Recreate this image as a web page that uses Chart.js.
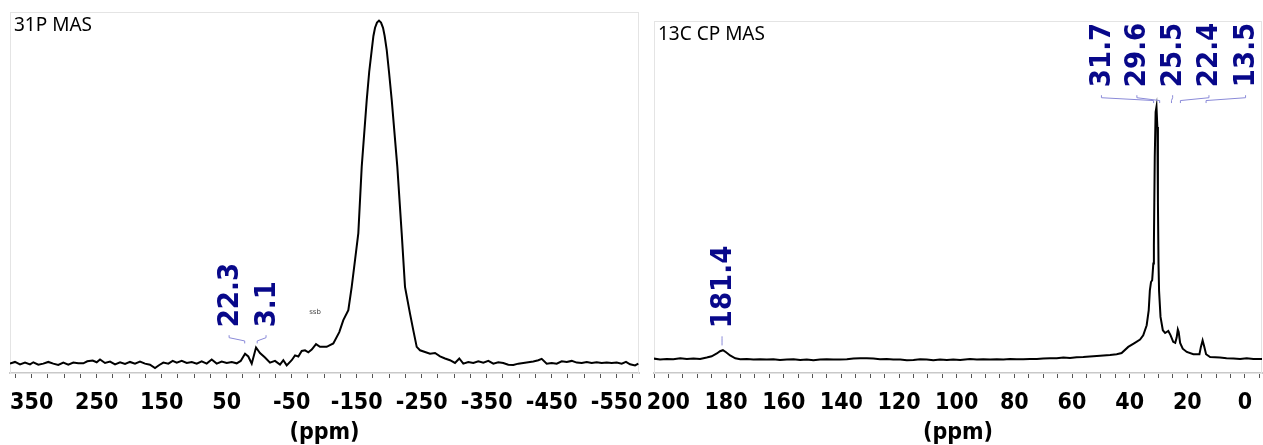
<!DOCTYPE html>
<html>
<head>
<meta charset="utf-8">
<script src="https://cdn.jsdelivr.net/npm/chart.js@4.4.1/dist/chart.umd.min.js"></script>
<style>
  html, body { margin: 0; padding: 0; background: #fff; }
  .panel { position: absolute; top: 0; height: 445px; overflow: hidden; }
  #left { left: 0; width: 641px; }
  #right { left: 641px; width: 622px; }
</style>
</head>
<body>
<div class="panel" id="left"><canvas id="p31" width="641" height="445"></canvas></div>
<div class="panel" id="right"><canvas id="c13" width="622" height="445"></canvas></div>
<script>
// 31P MAS trace (ppm / relative intensity, main peak = 100)
const p31Ppm = [383.4, 375.7, 368, 360.3, 352.6, 347.5, 339.8, 332.2, 324.5, 316.8, 309.1, 301.4, 293.7, 286, 278.3,
  270.6, 264.5, 256.2, 250, 244.9, 237.2, 229.5, 221.8, 214.1, 206.4, 198.8, 191.1, 183.4, 175.7, 168, 160.3, 153.7,
  147.5, 139.8, 133.1, 126.9, 119.2, 111.5, 103.8, 96.1, 88.5, 80.8, 73.1, 65.4, 57.7, 50, 42.3, 34.6, 28.5, 21.8,
  16.8, 11.5, 4.9, -1.2, -8.9, -16.6, -24.3, -32, -37.1, -42.3, -50, -55.1, -60.2, -65.4, -70.5, -75.6, -80.8, -87.4,
  -93.5, -103.8, -114, -123.2, -129.4, -137.1, -142.3, -147.4, -152.5, -157.7, -165.4, -169.2, -173.1, -175.7, -178.2,
  -181.2, -184.3, -187.4, -190.5, -193, -196.2, -199.7, -203.9, -212.5, -219.2, -224.3, -232, -237.1, -242.3, -247.4,
  -255.1, -262.8, -270.5, -278.2, -285.9, -293.5, -301.2, -307.8, -314, -321.7, -329.4, -337.1, -344.8, -352.5, -360.2,
  -367.8, -375.5, -383.2, -390.9, -398.6, -406.3, -414, -421.7, -429.4, -434.6, -442.3, -450, -457.7, -465.4, -473.1,
  -480.8, -488.5, -496.2, -503.9, -511.5, -519.2, -526.9, -534.6, -542.3, -550, -557.7, -564.3, -570.5, -578.2, -583.3];
const p31Int = [-0.1, 0.4, -0.3, 0.2, -0.3, 0.3, -0.4, -0.1, 0.4, -0.1, -0.5, 0.2, -0.4, 0.2, 0,
  0, 0.6, 0.8, 0.3, 1.1, 0.1, 0.5, -0.3, 0.3, -0.2, 0.4, -0.1, 0.5, -0.1, -0.4, -1.4, -0.5,
  0.2, -0.1, 0.7, 0.2, 0.7, 0.1, 0.4, -0.1, 0.6, -0.1, 1.1, -0.1, 0.5, 0.1, 0.4, 0, 0.7, 2.8,
  2.0, -0.1, 4.6, 3.0, 1.7, 0.2, 0.7, -0.4, 0.9, -0.6, 0.9, 2.3, 2.0, 3.6, 3.8, 3.2, 4.0, 5.6,
  4.8, 4.8, 5.8, 9.1, 12.6, 15.5, 22.3, 30.1, 38, 57.3, 76.8, 85, 91.4, 95.5, 97.9,
  99.4, 100, 99.4, 97.9, 95.5, 91.4, 85, 76.8, 57.3, 38, 22.3, 14.5, 9.6, 4.8, 3.8,
  3.3, 2.8, 3.0, 2.0, 1.4, 0.9, 0.1, 1.4, -0.1, 0.4, 0.1, 0.6, 0.2, 0.7, -0.1,
  0.3, 0.1, -0.4, -0.5, -0.1, 0.1, 0.3, 0.5, 0.9, 1.3, -0.1, 0.1, -0.1, 0.6, 0.4,
  0.7, 0.2, 0.1, 0.4, 0.1, 0.3, 0.1, 0.2, 0.1, 0.2, -0.1, 0.4, -0.3, -0.6, -0.1];
const p31Peaks = [22.3, 3.1];
const p31Labels = [350, 250, 150, 50, -50, -150, -250, -350, -450, -550];

// 13C CP MAS trace (ppm / relative intensity, main peak = 100)
const c13Ppm = [205.2, 202.9, 200.6, 198.3, 195.9, 193.6, 191.3, 189, 186.7, 185, 183.2, 182.1, 181.1, 180, 178.6,
  176.8, 175.1, 172.8, 170.5, 168.2, 165.9, 163.6, 161.3, 158.9, 156.6, 154.3, 152, 149.7, 147.4, 145.1, 142.8,
  140.5, 138.1, 135.8, 133.5, 131.2, 128.9, 126.6, 124.3, 122, 119.6, 117.3, 115, 112.7, 110.4, 108.1, 105.8, 103.4,
  101.2, 98.8, 95.4, 93, 90.8, 88.4, 86.1, 83.8, 81.5, 79.2, 76.9, 74.6, 72.2, 70, 67.6, 65.3, 63, 60.7, 58.4, 56.1,
  53.8, 51.4, 49.1, 46.8, 44.5, 42.8, 40.5, 38.2, 36.4, 35.3, 34.1, 33.4, 33, 32.6, 32.2, 31.8, 31.6, 31.3, 31, 30.7,
  30.4, 30.2, 30.0, 29.8, 29.3, 28.5, 27.7, 26.6, 25.8, 24.9, 24.2, 23.7, 23.3, 23, 22.5, 21.6, 20.2, 17.9, 15.8,
  15.3, 14.7, 14.1, 13.5, 12.1, 8.7, 6.4, 4, 1.7, -0.6, -2.9, -6.2];
const c13Int = [0.3, -0.1, 0.1, 0, 0.4, 0.1, 0.3, 0.1, 0.7, 1.2, 2.3, 3.2, 3.6, 2.8, 1.5,
  0.4, 0, 0.1, -0.1, 0, -0.1, 0, -0.3, -0.1, 0, -0.3, -0.1, -0.4, -0.1, 0, -0.1,
  -0.1, 0, 0.3, 0.4, 0.4, 0.3, 0, 0.1, -0.1, -0.1, -0.4, -0.3, 0, -0.1, -0.4, -0.1, -0.3,
  -0.1, -0.3, 0.1, -0.1, 0, -0.1, 0, -0.1, 0.1, 0, 0, 0.1, 0.1, 0.3, 0.4, 0.4, 0.7, 0.5, 0.8, 0.9,
  1.1, 1.3, 1.5, 1.7, 2.0, 2.5, 4.9, 6.5, 7.8, 9.5, 13.5, 19.4, 27.3, 30.6, 31.3, 37.9, 45, 80, 97.9, 100,
  92, 62, 38, 27, 16.8, 11.5, 10.4, 11.2, 9.5, 6.9, 6.5, 8.6, 11.8, 10.8, 6.5, 4.2, 2.9, 2.0, 2.0,
  4.9, 7.5, 4.9, 2.0, 0.9, 0.7, 0.4, 0.3, 0.1, 0.4, 0.1, 0.1];
const c13Peaks = [181.4, 31.7, 29.6, 25.5, 22.4, 13.5];
const c13Labels = [200, 180, 160, 140, 120, 100, 80, 60, 40, 20, 0];

// where the peak labels sit (ppm of text, intensity of text foot, leader top/bottom)
const p31LabelAt = [46.3, -10.5];
const p31LabelBase = [10.5, 10.5];
const p31LeadTop = [8.2, 8.2];
const p31LeadEnd = [5.8, 5.8];
const c13LabelAt = [181.4, 49.8, 37.5, 25.1, 12.5, -0.2];
const c13LabelBase = [12.3, 107.8, 107.8, 107.8, 107.8, 107.8];
const c13LeadTop = [9.1, 104.6, 104.6, 104.6, 104.6, 104.6];
const c13LeadEnd = [5.5, 101.5, 101.5, 101.5, 101.5, 101.5];

const boldFamily = "'DejaVu Sans Condensed', 'DejaVu Sans', sans-serif";
const tickFont = { family: boldFamily, size: 23, weight: 'bold', lineHeight: 2.2 };

function tickList(from, to, step) {
  let out = [];
  for (let v = from; v >= to; v -= step) out.push(v);
  return out;
}

const annot = {
  id: 'annot',
  beforeDatasetsDraw(chart) {
    const {ctx, chartArea: a} = chart;
    ctx.save();
    ctx.strokeStyle = '#e4e4e4';
    ctx.lineWidth = 1;
    ctx.strokeRect(a.left + 0.5, a.top + 0.5, a.right - a.left - 1, a.bottom - a.top);
    ctx.restore();
  },
  afterDatasetsDraw(chart, args, o) {
    const {ctx, chartArea: a, scales: {x, y}} = chart;
    ctx.save();
    ctx.fillStyle = '#000';
    ctx.font = '19px "Noto Sans"';
    ctx.textBaseline = 'alphabetic';
    ctx.textAlign = 'left';
    ctx.fillText(o.title, a.left + 4, a.top + 19);

    o.peaks.forEach((p, i) => {
      const px = x.getPixelForValue(p);
      const lx = x.getPixelForValue(o.at[i]);
      const y1 = y.getPixelForValue(o.top[i]);
      const y2 = y.getPixelForValue(o.end[i]);
      ctx.strokeStyle = '#8a8ad8';
      ctx.lineWidth = 1;
      ctx.beginPath();
      ctx.moveTo(lx, y1);
      ctx.lineTo(lx, y1 + 2.5);
      ctx.lineTo(px, y2 - 2.5);
      ctx.lineTo(px, y2);
      ctx.stroke();

      ctx.save();
      ctx.translate(lx, y.getPixelForValue(o.base[i]));
      ctx.rotate(-Math.PI / 2);
      ctx.fillStyle = '#08088a';
      ctx.font = 'bold 29px ' + boldFamily;
      ctx.textAlign = 'left';
      ctx.textBaseline = 'middle';
      ctx.fillText(p.toFixed(1), 0, 1);
      ctx.restore();
    });

    if (o.note) {
      ctx.fillStyle = '#444';
      ctx.font = '7px "DejaVu Sans"';
      ctx.textAlign = 'center';
      ctx.textBaseline = 'middle';
      ctx.fillText(o.note.text, x.getPixelForValue(o.note.at), y.getPixelForValue(o.note.y));
    }
    ctx.restore();
  }
};

function makeSpectrum(id, ppm, inten, o) {
  return new Chart(document.getElementById(id).getContext('2d'), {
    type: 'line',
    data: {
      datasets: [{
        data: ppm.map((v, i) => ({ x: v, y: inten[i] })),
        borderColor: '#000',
        borderWidth: 2,
        pointRadius: 0,
        tension: 0,
        fill: false
      }]
    },
    options: {
      responsive: false,
      animation: false,
      devicePixelRatio: 1,
      layout: { padding: o.pad },
      plugins: { legend: { display: false }, tooltip: { enabled: false }, annot: o.annot },
      scales: {
        x: {
          type: 'linear',
          reverse: true,
          min: o.xmin,
          max: o.xmax,
          afterBuildTicks: s => { s.ticks = o.ticks.map(v => ({ value: v })); },
          afterFit: s => { s.height = 72; },
          ticks: {
            autoSkip: false, maxRotation: 0, minRotation: 0, padding: 0,
            color: '#000', font: tickFont,
            callback: v => o.labels.includes(v) ? String(v) : ''
          },
          grid: { drawOnChartArea: false, drawTicks: true, tickLength: 5, tickColor: '#555', tickWidth: 1 },
          border: { display: true, color: '#c9c9c9', width: 2 },
          title: {
            display: true, text: '(ppm)', color: '#000', padding: 0,
            font: { family: boldFamily, size: 23, weight: 'bold', lineHeight: 1 }
          }
        },
        y: { display: false, min: o.ymin, max: o.ymax }
      }
    },
    plugins: [annot]
  });
}

makeSpectrum('p31', p31Ppm, p31Int, {
  pad: { left: 10, top: 12, right: 2, bottom: 0 },
  xmin: -584.3, xmax: 383.4, ymin: -2.83, ymax: 102.5,
  ticks: tickList(375, -575, 25), labels: p31Labels,
  annot: {
    title: '31P MAS', peaks: p31Peaks, at: p31LabelAt, base: p31LabelBase, top: p31LeadTop, end: p31LeadEnd,
    note: { text: 'ssb', at: -85.9, y: 14.9 }
  }
});

makeSpectrum('c13', c13Ppm, c13Int, {
  pad: { left: 13, top: 21, right: 1, bottom: 0 },
  xmin: -5.9, xmax: 205, ymin: -5.43, ymax: 134,
  ticks: tickList(205, -5, 5), labels: c13Labels,
  annot: {
    title: '13C CP MAS', peaks: c13Peaks, at: c13LabelAt, base: c13LabelBase, top: c13LeadTop, end: c13LeadEnd
  }
});
</script>
</body>
</html>
